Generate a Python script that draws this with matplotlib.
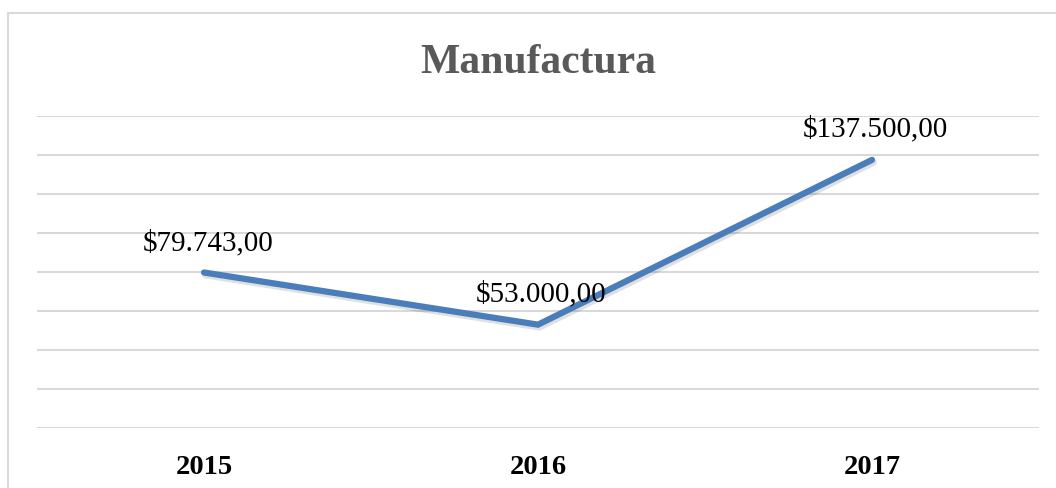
import matplotlib
matplotlib.use("Agg")
import matplotlib.pyplot as plt
from matplotlib.patches import Rectangle
from matplotlib.transforms import blended_transform_factory, ScaledTranslation

categories = ["2015", "2016", "2017"]
values = [79743, 53000, 137500]
labels = ["$79.743,00", "$53.000,00", "$137.500,00"]
title = "Manufactura"

W, H = 1056, 488
fig = plt.figure(figsize=(W / 100, H / 100), dpi=100)
plt.rcParams['font.family'] = ['Liberation Serif', 'DejaVu Serif']

# outer chart frame
fig.patches.append(Rectangle((8 / W, -0.1), 1.2, 1 - 13 / H + 0.1, transform=fig.transFigure,
                             fill=False, edgecolor="#D9D9D9", linewidth=1.5, clip_on=False))

ax = fig.add_axes([37 / W, 60 / H, 1002 / W, 312 / H])
x = list(range(len(categories)))
ax.set_xlim(-0.5, len(categories) - 0.5)
ax.set_ylim(0, 160000)
ax.set_yticks(range(0, 160001, 20000))
ax.yaxis.grid(True, color="#D9D9D9", linewidth=1.5)
ax.set_axisbelow(True)
for s in ax.spines.values():
    s.set_visible(False)
ax.tick_params(axis="y", left=False, labelleft=False)
ax.set_xticks(x)
ax.tick_params(axis="x", bottom=False, labelbottom=False)

# category labels
tr = blended_transform_factory(ax.transData, fig.transFigure)
for xi, c in zip(x, categories):
    ax.text(xi, 1 - 474 / H, c, transform=tr, ha="center", va="baseline",
            fontsize=20.5, fontweight="bold", color="#000000")

# shadow
ax.plot(x, values, color="#000000", alpha=0.12, linewidth=5, solid_capstyle="round",
        solid_joinstyle="miter",
        transform=ax.transData + ScaledTranslation(1.5 / 100, -2.5 / 100, fig.dpi_scale_trans))
ax.plot(x, values, color="#4A7EBB", linewidth=4.5, solid_capstyle="round", solid_joinstyle="miter")

offsets = [(4, 22), (3, 23), (3, 23)]
for xi, v, lab, off in zip(x, values, labels, offsets):
    ax.annotate(lab, (xi, v), xytext=off, textcoords="offset pixels",
                ha="center", va="baseline", fontsize=21, color="#000000")

fig.text(538 / W, 1 - 73 / H, title, ha="center", va="baseline", fontsize=30,
         fontweight="bold", color="#595959")

fig.savefig("out.png", dpi=100)
